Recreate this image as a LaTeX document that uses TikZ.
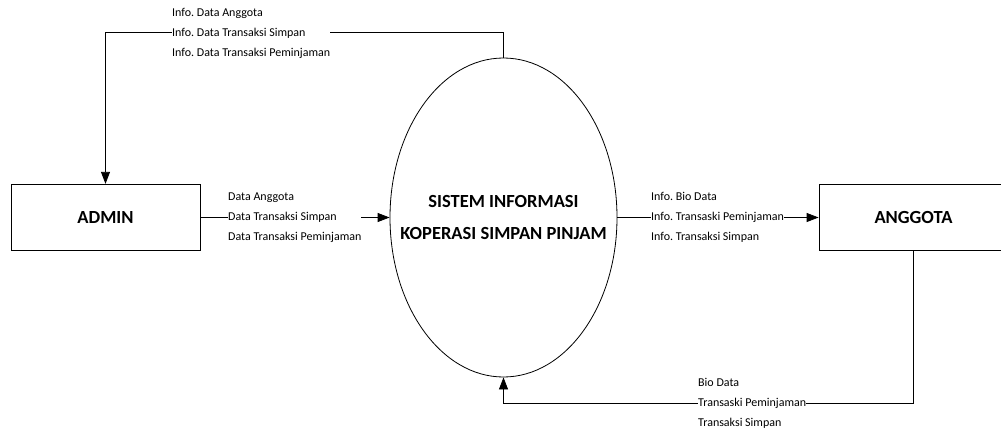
\documentclass[tikz,border=0pt]{standalone}
\usepackage{fontspec}
\setmainfont{Carlito}
\frenchspacing
\usetikzlibrary{shapes.geometric,arrows.meta}

\begin{document}
\begin{tikzpicture}[x=1pt, y=-1pt,
        box/.style={rectangle, draw, line width=0.8pt, minimum width=189pt, minimum height=66.5pt, font=\bfseries\fontsize{18.5}{22}\selectfont},
        proses/.style={ellipse, draw, line width=0.8pt, minimum width=227pt, minimum height=319pt, inner sep=0pt},
        judul/.style={align=center, inner sep=0pt, font=\bfseries\fontsize{18.5}{32}\selectfont},
        lbl/.style={fill=white, inner sep=0pt, anchor=west, align=left, font=\fontsize{12}{20}\selectfont},
        flow/.style={line width=0.8pt, -{Triangle[length=12pt,width=9pt]}}
    ]
    \useasboundingbox (0,0) rectangle (1001,434);
    \fill[white] (0,0) rectangle (1001,434);

    % entitas dan proses
    \node[box] (admin) at (105.5,217.5) {ADMIN};
    \node[proses] (sis) at (503.5,217.5) {};
    \node[judul] (sistxt) at (sis.center) {SISTEM INFORMASI\\KOPERASI SIMPAN PINJAM};
    \node[box] (anggota) at (913.5,217.5) {ANGGOTA};

    % aliran data
    \draw[flow] (sis.north) -- ++(0,-25) -| (admin.north);
    \draw[flow] (admin) -- (sis);
    \draw[flow] (sis) -- (anggota);
    \draw[flow] (anggota.south) -- ++(0,152) -| (sis.south);

    \node[lbl] (infoadmin) at (172,33) {Info. Data Anggota\\Info. Data Transaksi Simpan\\Info. Data Transaksi Peminjaman};
    \node[lbl] (dataadmin) at (228,217.5) {Data Anggota\\Data Transaksi Simpan\\Data Transaksi Peminjaman};
    \node[lbl] (infoanggota) at (651,217.5) {Info. Bio Data\\Info. Transaski Peminjaman\\Info. Transaksi Simpan};
    \node[lbl] (dataanggota) at (698,403) {Bio Data\\Transaski Peminjaman\\Transaksi Simpan};
\end{tikzpicture}
\end{document}
